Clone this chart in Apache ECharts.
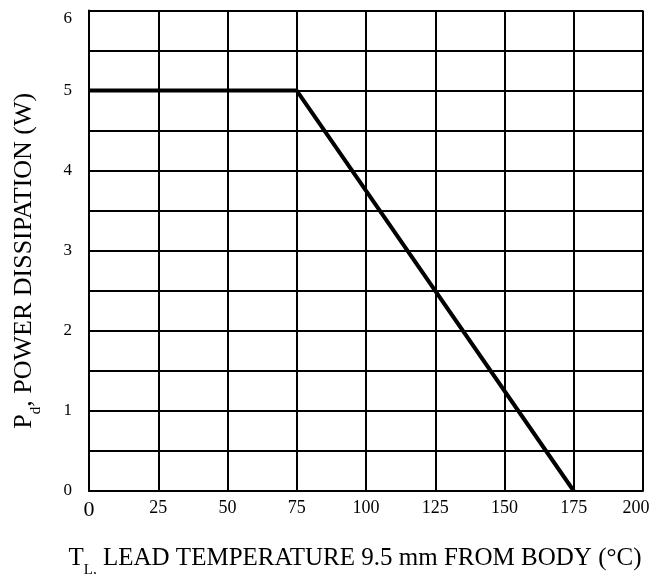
<!DOCTYPE html>
<html><head><meta charset="utf-8">
<script src="https://cdn.jsdelivr.net/npm/echarts@6/dist/echarts.min.js"></script>
<style>html,body{margin:0;padding:0;background:#fff}#c{width:652px;height:574px}</style>
</head><body><div id="c"></div>
<script>
const xTemps = [0, 75, 175];
const powerW = [5, 5, 0];
const xTicks = [0, 25, 50, 75, 100, 125, 150, 175, 200];
const yTicks = [0, 1, 2, 3, 4, 5, 6];

const FONT = '"Liberation Serif", "DejaVu Serif", serif';
const chart = echarts.init(document.getElementById('c'));
chart.setOption({
  animation: false,
  backgroundColor: '#fff',
  grid: { left: 89, right: 9, top: 10.5, bottom: 83, containLabel: false, outerBoundsMode: 'none' },
  xAxis: {
    type: 'value', min: 0, max: 200, interval: 25,
    axisLine: { show: true, lineStyle: { color: '#000', width: 2 } },
    axisTick: { show: false },
    splitLine: { show: true, lineStyle: { color: '#000', width: 2 } },
    axisLabel: {
      color: '#000', fontFamily: FONT, fontSize: 18, margin: 8,
      formatter: v => v === 0 ? '{big|0}' : (v === 200 ? '{last|200}' : (xTicks.includes(v) ? String(v) : '')),
      rich: {
        big: { fontSize: 22, fontFamily: FONT, color: '#000' },
        last: { fontSize: 18, fontFamily: FONT, color: '#000', padding: [0, 14, 0, 0] }
      }
    },
    name: '{m|T}{s|L,}{m| LEAD TEMPERATURE 9.5 mm FROM BODY (°C)}',
    nameLocation: 'middle', nameGap: 50,
    nameTextStyle: {
      color: '#000', fontFamily: FONT, padding: [0, 22, 0, 0],
      rich: {
        m: { fontSize: 25, fontFamily: FONT, color: '#000', lineHeight: 30, verticalAlign: 'bottom' },
        s: { fontSize: 15, fontFamily: FONT, color: '#000', lineHeight: 30, verticalAlign: 'bottom', padding: [0, 0, -7, 0] }
      }
    }
  },
  yAxis: {
    type: 'value', min: 0, max: 6, interval: 0.5,
    axisLine: { show: true, lineStyle: { color: '#000', width: 2 } },
    axisTick: { show: false },
    splitLine: { show: true, lineStyle: { color: '#000', width: 2 } },
    axisLabel: {
      color: '#000', fontFamily: FONT, fontSize: 17, margin: 17,
      formatter: v => (Number.isInteger(v) && yTicks.includes(v)) ? String(v) : '',
      verticalAlignMaxLabel: 'top'
    },
    name: '{m|P}{s|d}{m|, POWER DISSIPATION (W)}',
    nameLocation: 'middle', nameGap: 52, nameRotate: 90,
    nameTextStyle: {
      color: '#000', fontFamily: FONT, padding: [0, 20, 0, 0],
      rich: {
        m: { fontSize: 26, fontFamily: FONT, color: '#000', lineHeight: 30, verticalAlign: 'bottom' },
        s: { fontSize: 15, fontFamily: FONT, color: '#000', lineHeight: 30, verticalAlign: 'bottom', padding: [0, 0, -7, 0] }
      }
    }
  },
  series: [{
    type: 'line',
    data: xTemps.map((x, i) => [x, powerW[i]]),
    symbol: 'none',
    lineStyle: { color: '#000', width: 4 },
    z: 5
  }]
});
</script></body></html>
